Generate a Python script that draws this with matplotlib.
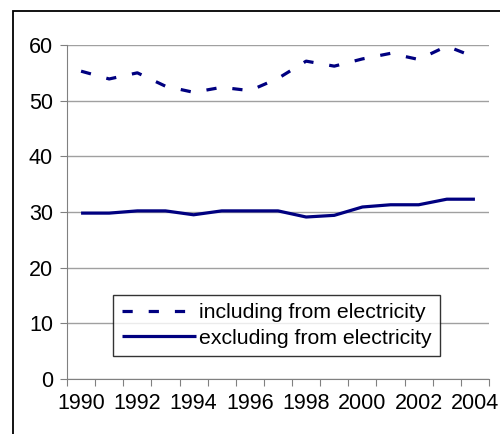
import matplotlib
matplotlib.use("Agg")
import matplotlib.pyplot as plt
from matplotlib.patches import Rectangle

years = list(range(1990, 2005))
including = [55.3, 53.9, 55.0, 52.6, 51.5, 52.4, 51.8, 54.0, 57.1, 56.2, 57.5, 58.5, 57.4, 59.8, 57.8]
excluding = [29.8, 29.8, 30.2, 30.2, 29.5, 30.2, 30.2, 30.2, 29.1, 29.4, 30.9, 31.3, 31.3, 32.3, 32.3]
ytick_vals = [0, 10, 20, 30, 40, 50, 60]
xtick_labels = [str(y) for y in range(1990, 2005, 2)]

plt.rcParams['font.family'] = ['Liberation Sans', 'DejaVu Sans']

W, H = 500, 434
fig = plt.figure(figsize=(W/100, H/100), dpi=100)
ax = fig.add_axes([67/W, 1 - 379/H, (489-67)/W, (379-45)/H])

# outer frame
fig.patches.append(Rectangle((13/W, -0.05), 1.0, 1 - 11/H + 0.05, transform=fig.transFigure,
                             fill=False, edgecolor='black', linewidth=1.3, zorder=0))

navy = '#000080'
xs = list(range(len(years)))
ax.plot(xs, including, color=navy, linewidth=2.3, linestyle=(0, (3.2, 5.0)),
        dash_capstyle='butt', label='including from electricity')
ax.plot(xs, excluding, color=navy, linewidth=2.3, solid_capstyle='butt',
        label='excluding from electricity')

ax.set_xlim(-0.5, len(years) - 0.5)
ax.set_ylim(0, 60)
ax.set_yticks(ytick_vals)
ax.set_yticklabels([str(v) for v in ytick_vals], fontsize=15.5)
ax.set_xticks([i - 0.5 for i in range(len(years) + 1)], minor=False)
ax.set_xticklabels([''] * (len(years) + 1))
ax.set_xticks(xs[::2], minor=True)
ax.set_xticklabels(xtick_labels, minor=True, fontsize=15.5)
ax.tick_params(axis='x', which='minor', length=0, pad=10)
ax.tick_params(axis='x', which='major', length=5, color='#808080', direction='out')
ax.tick_params(axis='y', length=5, color='#808080', direction='out', pad=5)
ax.grid(axis='y', color='#a0a0a0', linewidth=1.0)
ax.set_axisbelow(True)
for s in ['top', 'right']:
    ax.spines[s].set_visible(False)
ax.spines['left'].set_color('#808080')
ax.spines['bottom'].set_color('#808080')

leg = ax.legend(loc='upper left', bbox_to_anchor=(113/W, 1 - 295/H), bbox_transform=fig.transFigure,
                fontsize=15.3, frameon=True, fancybox=False, handlelength=3.5, handletextpad=0.15,
                borderpad=0.4, labelspacing=0.3, borderaxespad=0)
leg.get_frame().set_edgecolor('black')
leg.get_frame().set_linewidth(1.0)

fig.savefig('out.png', dpi=100)
